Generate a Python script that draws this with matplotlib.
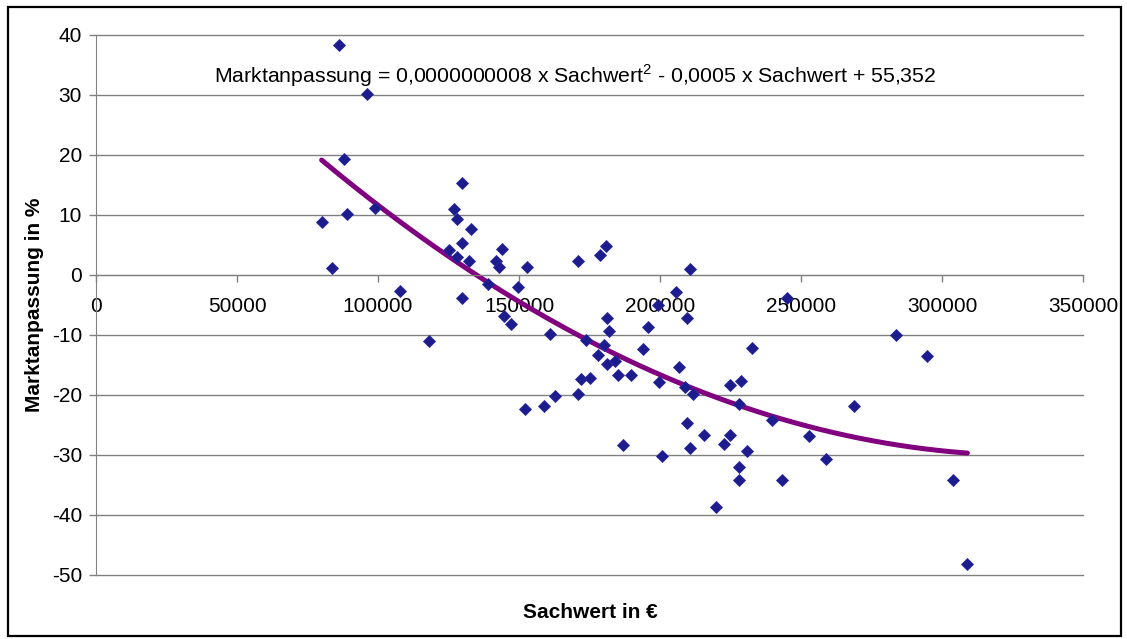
import numpy as np
import matplotlib.pyplot as plt
from matplotlib.patches import Rectangle

# Sachwert in EUR / Marktanpassung in %
sachwert = [80000, 83800, 86100, 87900, 89000, 96000, 98900, 107800, 118000,
            125100, 126800, 128000, 128100, 129700, 129800, 129800, 132100,
            132900, 138900, 141800, 143000, 144100, 144800, 147000, 149800,
            152000, 152800, 159000, 161000, 162800, 171000, 171000, 171900,
            173800, 175200, 177900, 178800, 180000, 181000, 181100, 181100,
            182000, 184100, 185000, 186900, 189600, 193800, 195800, 199200,
            199700, 200800, 205800, 206700, 208700, 209600, 209600, 210800,
            210800, 211800, 215600, 220000, 222800, 224800, 224800, 227900,
            227900, 228000, 228800, 230900, 232700, 239800, 243100, 244900,
            252900, 259000, 268800, 283700, 294700, 303900, 309000]
marktanpassung = [8.8, 1.2, 38.4, 19.4, 10.1, 30.2, 11.1, -2.7, -11.0,
                  4.1, 11.0, 9.3, 3.0, 15.4, 5.4, -3.8, 2.3,
                  7.6, -1.5, 2.3, 1.3, 4.3, -6.8, -8.1, -2.0,
                  -22.3, 1.3, -21.9, -9.9, -20.2, 2.4, -19.8, -17.4,
                  -10.8, -17.2, -13.4, 3.3, -11.6, 4.9, -7.1, -14.8,
                  -9.4, -14.3, -16.7, -28.3, -16.7, -12.3, -8.6, -5.0,
                  -17.9, -30.1, -2.9, -15.4, -18.7, -7.1, -24.7, 1.0,
                  -28.9, -19.8, -26.6, -38.6, -28.2, -18.3, -26.6, -32.0,
                  -34.2, -21.5, -17.7, -29.4, -12.2, -24.2, -34.1, -3.9,
                  -26.8, -30.6, -21.9, -10.0, -13.5, -34.2, -48.2]

x_ticks = [0, 50000, 100000, 150000, 200000, 250000, 300000, 350000]
y_ticks = [40, 30, 20, 10, 0, -10, -20, -30, -40, -50]

plt.rcParams['font.family'] = ['Liberation Sans', 'DejaVu Sans']
plt.rcParams['mathtext.fontset'] = 'custom'
plt.rcParams['mathtext.rm'] = 'Liberation Sans'

fig = plt.figure(figsize=(11.27, 6.39), dpi=100)
W, H = 1127, 639
ax = fig.add_axes([96 / W, 1 - 575 / H, (1083 - 96) / W, (575 - 35) / H])

grid_col = '#808080'
ax.set_xlim(0, 350000)
ax.set_ylim(-50, 40)
ax.set_yticks(y_ticks)
ax.set_xticks(x_ticks)
ax.set_xticklabels([str(v) for v in x_ticks])
ax.set_yticklabels([str(v) for v in y_ticks])
ax.yaxis.grid(True, color=grid_col, linewidth=1.0)
for gl in ax.get_ygridlines():
    gl.set_clip_on(False)
ax.set_axisbelow(True)

for s in ['top', 'right']:
    ax.spines[s].set_visible(False)
ax.spines['bottom'].set_position(('data', 0))
ax.spines['bottom'].set_color(grid_col)
ax.spines['left'].set_color(grid_col)
ax.tick_params(axis='both', colors=grid_col, labelcolor='black', labelsize=15,
               length=5, width=1)
ax.tick_params(axis='x', pad=11)
ax.tick_params(axis='y', pad=5)

# quadratic trend line (Excel polynomial fit)
coef = np.polyfit(sachwert, marktanpassung, 2)
xs = np.linspace(min(sachwert), max(sachwert), 200)
ax.plot(xs, np.polyval(coef, xs), color='#800080', linewidth=3.6, zorder=2,
        solid_capstyle='round')

ax.plot(sachwert, marktanpassung, linestyle='none', marker='D', markersize=6,
        color='#1c1c8c', markeredgecolor='#2a2aa0', markeredgewidth=0.6, zorder=3)

ax.text(0.4853, 0.924,
        r'Marktanpassung = 0,0000000008 x Sachwert$^{2}$ - 0,0005 x Sachwert + 55,352',
        transform=ax.transAxes, ha='center', va='center', fontsize=15.3)

ax.set_ylabel('Marktanpassung in %', fontsize=15, fontweight='bold', labelpad=6)
fig.text(590 / W, 1 - 612 / H, 'Sachwert in €', ha='center', va='center',
         fontsize=15, fontweight='bold')

fig.patches.append(Rectangle((8 / W, 1 - 636 / H), (1121 - 8) / W, (636 - 7) / H,
                             transform=fig.transFigure, fill=False,
                             edgecolor='black', linewidth=1.6))

fig.savefig('out.png', dpi=100)
